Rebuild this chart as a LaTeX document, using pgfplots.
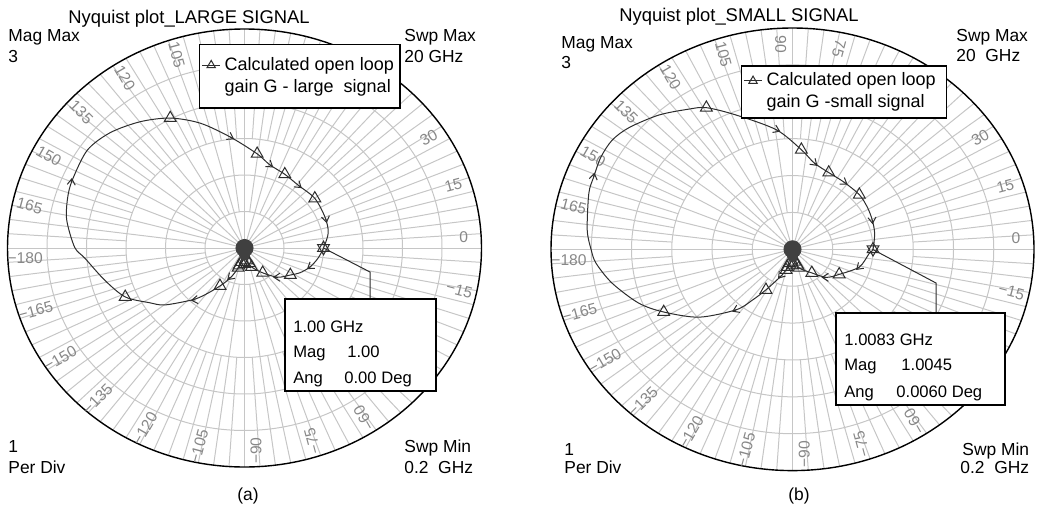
\documentclass[border=0pt]{standalone}
\usepackage{fontspec}
\setmainfont{Liberation Sans}
\usepackage{pgfplots}
\pgfplotsset{compat=1.18}
\usetikzlibrary{arrows.meta}
\definecolor{gridc}{RGB}{198,198,198}
\definecolor{labc}{RGB}{135,135,135}
\definecolor{curvec}{RGB}{45,45,45}
\definecolor{blobc}{RGB}{64,64,64}

\newcommand{\alab}[3]{\node[labc, font=\fontsize{7.8}{9}\selectfont, rotate=#2, inner sep=0pt] at (axis cs:{2.78*cos(#1+3)},{2.78*sin(#1+3)}) {#3};}

\newcommand{\polargrid}{%
 \pgfplotsinvokeforeach{0.5,1,1.5,2,2.5}{\draw[gridc, line width=0.5pt] (axis cs:0,0) ellipse [x radius=##1, y radius=##1];}
 \pgfplotsinvokeforeach{0,15,...,345}{\draw[gridc, line width=0.5pt] (axis cs:0,0) -- (axis cs:{3*cos(##1)},{3*sin(##1)});}
 \pgfplotsinvokeforeach{7.5,22.5,...,352.5}{\draw[gridc, line width=0.5pt] (axis cs:{0.5*cos(##1)},{0.5*sin(##1)}) -- (axis cs:{3*cos(##1)},{3*sin(##1)});}
 \pgfplotsinvokeforeach{3.75,11.25,...,356.25}{\draw[gridc, line width=0.5pt] (axis cs:{1.5*cos(##1)},{1.5*sin(##1)}) -- (axis cs:{3*cos(##1)},{3*sin(##1)});}
 \draw[black, line width=0.7pt] (axis cs:0,0) ellipse [x radius=3, y radius=3];
 \alab{0}{0}{0}\alab{15}{15}{15}\alab{30}{30}{30}\alab{-15}{-15}{−15}
 \alab{105}{-75}{105}\alab{120}{-60}{120}\alab{135}{-45}{135}\alab{150}{-30}{150}\alab{165}{-15}{165}\alab{180}{0}{−180}
 \alab{-165}{15}{−165}\alab{-150}{30}{−150}\alab{-135}{45}{−135}\alab{-120}{60}{−120}\alab{-105}{75}{−105}\alab{-90}{90}{−90}\alab{-75}{105}{−75}\alab{-60}{120}{−60}
}

\pgfplotsset{nyq/.style={scale only axis, hide axis, xmin=-3, xmax=3, ymin=-3, ymax=3, clip=false, anchor=center,
  legend cell align=left,
  legend style={draw=black, fill=white, line width=0.7pt, font=\fontsize{9}{11}\selectfont, cells={align=left}, anchor=north west, inner xsep=1pt},
  legend image code/.code={\draw[mark repeat=2,mark phase=2,yshift=5.5pt,##1] plot coordinates {(0pt,0pt) (4.5pt,0pt) (9pt,0pt)};}
}}

\pgfplotstableread{
x y
-0.02 -0.11
-0.08 -0.27
-0.18 -0.41
-0.31 -0.52
-0.50 -0.64
-0.66 -0.71
-1.01 -0.78
-1.20 -0.75
-1.51 -0.67
-1.77 -0.44
-2.02 -0.14
-2.15 0.01
-2.25 0.38
-2.24 0.68
-2.18 0.93
-1.99 1.34
-1.70 1.58
-1.32 1.73
-0.94 1.78
-0.56 1.71
-0.18 1.52
0.16 1.29
0.32 1.14
0.51 1.01
0.68 0.86
0.89 0.68
1.02 0.42
1.06 0.21
1.00 0.00
0.93 -0.14
0.83 -0.26
0.70 -0.34
0.58 -0.37
0.42 -0.40
0.23 -0.34
0.09 -0.26
0.02 -0.15
0.00 -0.05
}\curveA

\pgfplotstableread{
x y
-0.08 -0.27
-0.31 -0.52
-1.51 -0.67
-0.94 1.78
0.16 1.29
0.51 1.01
0.89 0.68
0.58 -0.37
0.23 -0.34
0.09 -0.26
0.03 -0.17
-0.04 -0.19
0.00 -0.22
0.06 -0.21
-0.07 -0.24
}\triA

\pgfplotstableread{
x y u v
-0.62 -0.71 -0.06 -0.008
-2.19 0.90 0.006 0.06
-0.18 1.52 0.05 -0.03
0.32 1.14 0.045 -0.036
0.68 0.86 0.045 -0.04
1.03 0.40 0.01 -0.06
0.84 -0.25 -0.05 -0.04
0.42 -0.40 -0.06 0.0
-0.18 -0.40 -0.04 -0.04
}\arrA

\pgfplotstableread{
x y
-0.03 -0.12
-0.08 -0.28
-0.13 -0.35
-0.33 -0.55
-0.50 -0.69
-0.70 -0.82
-1.16 -0.92
-1.60 -0.85
-1.91 -0.73
-2.24 -0.46
-2.44 -0.19
-2.50 -0.01
-2.55 0.26
-2.53 0.76
-2.47 0.98
-2.38 1.25
-2.24 1.48
-2.03 1.65
-1.66 1.82
-1.29 1.90
-1.07 1.92
-0.70 1.82
-0.20 1.62
0.11 1.35
0.27 1.17
0.45 1.04
0.64 0.91
0.83 0.74
0.93 0.57
0.99 0.40
1.02 0.22
1.00 0.00
0.95 -0.06
0.83 -0.24
0.58 -0.34
0.42 -0.38
0.24 -0.32
0.08 -0.25
0.03 -0.12
0.00 -0.04
}\curveB

\pgfplotstableread{
x y
-0.08 -0.28
-0.33 -0.55
-1.60 -0.85
-1.07 1.92
0.11 1.35
0.45 1.04
0.83 0.74
0.58 -0.34
0.24 -0.32
0.08 -0.25
0.03 -0.17
-0.04 -0.19
0.00 -0.22
0.06 -0.21
-0.07 -0.24
}\triB

\pgfplotstableread{
x y u v
-0.70 -0.82 -0.05 -0.025
-2.47 0.98 0.01 0.06
-0.20 1.62 0.05 -0.025
0.27 1.17 0.04 -0.04
0.64 0.91 0.045 -0.035
0.99 0.40 0.005 -0.06
0.83 -0.24 -0.04 -0.04
0.42 -0.38 -0.06 0.0
-0.15 -0.36 -0.03 -0.04
}\arrB

\begin{document}
\begin{tikzpicture}
\useasboundingbox (0,0) rectangle (519pt,255pt);

% ---------------- (a) ----------------
\begin{axis}[nyq, at={(122.25pt,131pt)}, width=237pt, height=219pt,
  legend style={at={(0.404,0.966)}, inner ysep=4.3pt}]
\addlegendimage{curvec, line width=0.5pt, mark=triangle, mark size=2.4pt, mark options={solid}}
\addlegendentry{Calculated open loop\\gain G - large~~signal}
\polargrid
\addplot[curvec, line width=0.5pt, smooth, tension=0.5, forget plot] table {\curveA};
\addplot[curvec, line width=0.5pt, only marks, mark=triangle, mark size=3.4pt, forget plot] table {\triA};
\addplot[curvec, line width=0.5pt, forget plot, quiver={u=\thisrow{u}, v=\thisrow{v}}, -{Straight Barb[length=3pt, width=4pt]}] table {\arrA};
\addplot[curvec, line width=0.5pt, only marks, mark=triangle, mark size=3.4pt, forget plot] coordinates {(1,0)};
\addplot[curvec, line width=0.5pt, only marks, mark=triangle, mark size=3.4pt, mark options={rotate=180}, forget plot] coordinates {(1,0)};
\addplot[blobc, only marks, mark=*, mark size=4.3pt, forget plot] coordinates {(0,0)};
\addplot[blobc, only marks, mark=*, mark size=2.5pt, forget plot] coordinates {(0,-0.1)};
\end{axis}

% ---------------- (b) ----------------
\begin{axis}[nyq, at={(396.25pt,130.35pt)}, width=241.5pt, height=221.3pt,
  legend style={at={(0.393,0.916)}, inner ysep=1.5pt}]
\addlegendimage{curvec, line width=0.5pt, mark=triangle, mark size=2.4pt, mark options={solid}}
\addlegendentry{Calculated open loop\\gain G -small signal\hspace*{8pt}}
\polargrid
\alab{90}{-90}{90}\alab{75}{-105}{75}
\addplot[curvec, line width=0.5pt, smooth, tension=0.5, forget plot] table {\curveB};
\addplot[curvec, line width=0.5pt, only marks, mark=triangle, mark size=3.4pt, forget plot] table {\triB};
\addplot[curvec, line width=0.5pt, forget plot, quiver={u=\thisrow{u}, v=\thisrow{v}}, -{Straight Barb[length=3pt, width=4pt]}] table {\arrB};
\addplot[curvec, line width=0.5pt, only marks, mark=triangle, mark size=3.4pt, forget plot] coordinates {(1,0)};
\addplot[curvec, line width=0.5pt, only marks, mark=triangle, mark size=3.4pt, mark options={rotate=180}, forget plot] coordinates {(1,0)};
\addplot[blobc, only marks, mark=*, mark size=4.3pt, forget plot] coordinates {(0,0)};
\addplot[blobc, only marks, mark=*, mark size=2.5pt, forget plot] coordinates {(0,-0.1)};
\end{axis}

% ------------- annotations (pixel grid of the reference) -------------
\begin{scope}[shift={(0pt,255pt)}, x=0.5pt, y=-0.5pt]
\tikzset{lbl/.style={anchor=base west, inner sep=0pt, font=\fontsize{8.7}{10}\selectfont},
         ttl/.style={anchor=base west, inner sep=0pt, font=\fontsize{9.2}{11}\selectfont},
         mk/.style={anchor=base west, inner sep=0pt, font=\fontsize{8.3}{10}\selectfont}}
% (a)
\node[ttl] at (68,24) {Nyquist plot\_LARGE SIGNAL};
\node[lbl] at (8,42) {Mag Max};
\node[lbl] at (8,63) {3};
\node[lbl] at (404,42) {Swp Max};
\node[lbl] at (404,63) {20 GHz};
\node[lbl] at (8,452) {1};
\node[lbl] at (8,473) {Per Div};
\node[lbl] at (404,452) {Swp Min};
\node[lbl] at (404,473) {0.2~~GHz};
\node[lbl, anchor=base] at (248,500) {(a)};
\draw[curvec, line width=0.5pt] (323.5,248) -- (370,272) -- (370,299);
\draw[black, line width=0.7pt, fill=white] (285,299) rectangle (436,391);
\node[mk] at (293,332) {1.00 GHz};
\node[mk] at (293,357) {Mag};
\node[mk] at (347,357) {1.00};
\node[mk] at (293,383) {Ang};
\node[mk] at (344,383) {0.00 Deg};
% (b)
\node[ttl] at (619,22) {Nyquist plot\_SMALL SIGNAL};
\node[lbl] at (561,49) {Mag Max};
\node[lbl] at (561,68) {3};
\node[lbl] at (956,42) {Swp Max};
\node[lbl] at (956,62) {20~~GHz};
\node[lbl] at (564,455) {1};
\node[lbl] at (564,473) {Per Div};
\node[lbl] at (962,455) {Swp Min};
\node[lbl] at (960,473) {0.2~~GHz};
\node[lbl, anchor=base] at (799,500) {(b)};
\draw[curvec, line width=0.5pt] (872.5,249.3) -- (936,283) -- (936,313);
\draw[black, line width=0.7pt, fill=white] (836,313) rectangle (1005,405);
\node[mk] at (844,345) {1.0083 GHz};
\node[mk] at (844,370) {Mag};
\node[mk] at (901,370) {1.0045};
\node[mk] at (844,397) {Ang};
\node[mk] at (896,397) {0.0060 Deg};
\end{scope}
\end{tikzpicture}
\end{document}
